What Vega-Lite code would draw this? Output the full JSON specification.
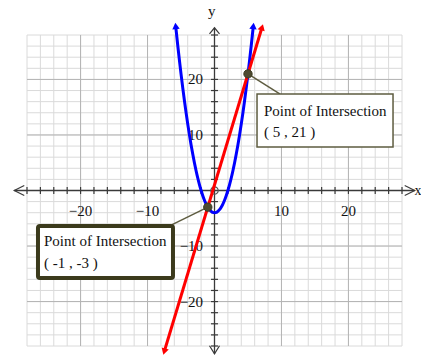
{
  "$schema": "https://vega.github.io/schema/vega-lite/v6.json",
  "width": 375,
  "height": 311,
  "autosize": {"type": "none"},
  "padding": {"left": 27, "top": 35, "right": 19, "bottom": 12},
  "background": "white",
  "config": {"view": {"stroke": null}, "font": "Liberation Serif", "text": {"font": "Liberation Serif", "fontSize": 15, "color": "#111111"}},
  "datasets": {
    "grid": [
      {"v": -28}, {"v": -26}, {"v": -24}, {"v": -22}, {"v": -20}, {"v": -18}, {"v": -16}, {"v": -14}, {"v": -12}, {"v": -10},
      {"v": -8}, {"v": -6}, {"v": -4}, {"v": -2}, {"v": 0}, {"v": 2}, {"v": 4}, {"v": 6}, {"v": 8}, {"v": 10},
      {"v": 12}, {"v": 14}, {"v": 16}, {"v": 18}, {"v": 20}, {"v": 22}, {"v": 24}, {"v": 26}, {"v": 28}
    ],
    "major": [{"v": -20}, {"v": -10}, {"v": 10}, {"v": 20}],
    "labels": [
      {"v": -20, "label": "−20"}, {"v": -10, "label": "−10"}, {"v": 10, "label": "10"}, {"v": 20, "label": "20"}
    ],
    "axes": [{"axis": "x"}, {"axis": "y"}],
    "parabola": [
      {"x": -5.8, "y": 29.64}, {"x": -5.5, "y": 26.25}, {"x": -5.25, "y": 23.56}, {"x": -5, "y": 21},
      {"x": -4.75, "y": 18.56}, {"x": -4.5, "y": 16.25}, {"x": -4.25, "y": 14.06}, {"x": -4, "y": 12},
      {"x": -3.75, "y": 10.06}, {"x": -3.5, "y": 8.25}, {"x": -3.25, "y": 6.56}, {"x": -3, "y": 5},
      {"x": -2.75, "y": 3.56}, {"x": -2.5, "y": 2.25}, {"x": -2.25, "y": 1.06}, {"x": -2, "y": 0},
      {"x": -1.75, "y": -0.94}, {"x": -1.5, "y": -1.75}, {"x": -1.25, "y": -2.44}, {"x": -1, "y": -3},
      {"x": -0.75, "y": -3.44}, {"x": -0.5, "y": -3.75}, {"x": -0.25, "y": -3.94}, {"x": 0, "y": -4},
      {"x": 0.25, "y": -3.94}, {"x": 0.5, "y": -3.75}, {"x": 0.75, "y": -3.44}, {"x": 1, "y": -3},
      {"x": 1.25, "y": -2.44}, {"x": 1.5, "y": -1.75}, {"x": 1.75, "y": -0.94}, {"x": 2, "y": 0},
      {"x": 2.25, "y": 1.06}, {"x": 2.5, "y": 2.25}, {"x": 2.75, "y": 3.56}, {"x": 3, "y": 5},
      {"x": 3.25, "y": 6.56}, {"x": 3.5, "y": 8.25}, {"x": 3.75, "y": 10.06}, {"x": 4, "y": 12},
      {"x": 4.25, "y": 14.06}, {"x": 4.5, "y": 16.25}, {"x": 4.75, "y": 18.56}, {"x": 5, "y": 21},
      {"x": 5.25, "y": 23.56}, {"x": 5.5, "y": 26.25}, {"x": 5.8, "y": 29.64}
    ],
    "line": [{"x": -7.5, "y": -29}, {"x": 7.1, "y": 29.4}],
    "intersections": [
      {"x": -1, "y": -3, "label": "( -1 , -3 )"},
      {"x": 5, "y": 21, "label": "( 5 , 21 )"}
    ]
  },
  "layer": [
    {
      "data": {"name": "grid"},
      "mark": {"type": "rule", "color": "#dadada", "strokeWidth": 1},
      "encoding": {
        "x": {"field": "v", "type": "quantitative", "scale": {"domain": [-28, 28], "nice": false, "zero": false}, "axis": null},
        "y": {"datum": -28, "type": "quantitative", "scale": {"domain": [-28, 28], "nice": false, "zero": false}, "axis": null},
        "y2": {"datum": 28}
      }
    },
    {
      "data": {"name": "grid"},
      "mark": {"type": "rule", "color": "#dadada", "strokeWidth": 1},
      "encoding": {
        "y": {"field": "v", "type": "quantitative"},
        "x": {"datum": -28, "type": "quantitative"},
        "x2": {"datum": 28}
      }
    },
    {
      "data": {"name": "major"},
      "mark": {"type": "rule", "color": "#b4b4b4", "strokeWidth": 1},
      "encoding": {
        "x": {"field": "v", "type": "quantitative"},
        "y": {"datum": -28, "type": "quantitative"},
        "y2": {"datum": 28}
      }
    },
    {
      "data": {"name": "major"},
      "mark": {"type": "rule", "color": "#b4b4b4", "strokeWidth": 1},
      "encoding": {
        "y": {"field": "v", "type": "quantitative"},
        "x": {"datum": -28, "type": "quantitative"},
        "x2": {"datum": 28}
      }
    },
    {
      "data": {"name": "axes"},
      "transform": [{"filter": "datum.axis == 'x'"}],
      "mark": {"type": "rule", "color": "#3a3a3a", "strokeWidth": 1.3},
      "encoding": {
        "x": {"datum": -29.9, "type": "quantitative"},
        "x2": {"datum": 29.9},
        "y": {"datum": 0, "type": "quantitative"}
      }
    },
    {
      "data": {"name": "axes"},
      "transform": [{"filter": "datum.axis == 'y'"}],
      "mark": {"type": "rule", "color": "#3a3a3a", "strokeWidth": 1.3},
      "encoding": {
        "y": {"datum": -29.4, "type": "quantitative"},
        "y2": {"datum": 29.3},
        "x": {"datum": 0, "type": "quantitative"}
      }
    },
    {
      "data": {"name": "axes"},
      "transform": [{"filter": "datum.axis == 'x'"}],
      "mark": {"type": "point", "shape": "M -1 -0.5 L 0 0 L -1 0.5", "filled": false, "color": "#3a3a3a", "strokeWidth": 1.2, "size": 400, "opacity": 1},
      "encoding": {"x": {"datum": 29.9, "type": "quantitative"}, "y": {"datum": 0, "type": "quantitative"}}
    },
    {
      "data": {"name": "axes"},
      "transform": [{"filter": "datum.axis == 'x'"}],
      "mark": {"type": "point", "shape": "M 1 -0.5 L 0 0 L 1 0.5", "filled": false, "color": "#3a3a3a", "strokeWidth": 1.2, "size": 400, "opacity": 1},
      "encoding": {"x": {"datum": -29.9, "type": "quantitative"}, "y": {"datum": 0, "type": "quantitative"}}
    },
    {
      "data": {"name": "axes"},
      "transform": [{"filter": "datum.axis == 'y'"}],
      "mark": {"type": "point", "shape": "M -0.5 0.6 L 0 0 L 0.5 0.6", "filled": false, "color": "#3a3a3a", "strokeWidth": 1.2, "size": 400, "opacity": 1},
      "encoding": {"x": {"datum": 0, "type": "quantitative"}, "y": {"datum": 29.3, "type": "quantitative"}}
    },
    {
      "data": {"name": "axes"},
      "transform": [{"filter": "datum.axis == 'y'"}],
      "mark": {"type": "point", "shape": "M -0.5 -0.8 L 0 0 L 0.5 -0.8", "filled": false, "color": "#3a3a3a", "strokeWidth": 1.2, "size": 400, "opacity": 1},
      "encoding": {"x": {"datum": 0, "type": "quantitative"}, "y": {"datum": -29.4, "type": "quantitative"}}
    },
    {
      "data": {"name": "axes"},
      "transform": [{"filter": "datum.axis == 'x'"}],
      "mark": {"type": "text", "font": "Liberation Serif", "fontSize": 14, "align": "left", "baseline": "middle"},
      "encoding": {"x": {"datum": 29.85, "type": "quantitative"}, "y": {"datum": 0, "type": "quantitative"}, "text": {"field": "axis"}}
    },
    {
      "data": {"name": "axes"},
      "transform": [{"filter": "datum.axis == 'y'"}],
      "mark": {"type": "text", "font": "Liberation Serif", "fontSize": 15, "align": "center", "baseline": "middle"},
      "encoding": {"x": {"datum": -0.4, "type": "quantitative"}, "y": {"datum": 32.3, "type": "quantitative"}, "text": {"field": "axis"}}
    },
    {
      "data": {"name": "grid"},
      "transform": [{"filter": "datum.v != 0"}],
      "mark": {"type": "tick", "orient": "vertical", "color": "#3a3a3a", "size": 7, "thickness": 1.2, "opacity": 1},
      "encoding": {"x": {"field": "v", "type": "quantitative"}, "y": {"datum": 0, "type": "quantitative"}}
    },
    {
      "data": {"name": "grid"},
      "transform": [{"filter": "datum.v != 0"}],
      "mark": {"type": "tick", "orient": "horizontal", "color": "#3a3a3a", "size": 7, "thickness": 1.2, "opacity": 1},
      "encoding": {"y": {"field": "v", "type": "quantitative"}, "x": {"datum": 0, "type": "quantitative"}}
    },
    {
      "data": {"name": "labels"},
      "mark": {"type": "text", "font": "Liberation Serif", "fontSize": 15, "align": "center", "baseline": "middle"},
      "encoding": {"x": {"field": "v", "type": "quantitative"}, "y": {"datum": -3.7, "type": "quantitative"}, "text": {"field": "label"}}
    },
    {
      "data": {"name": "labels"},
      "mark": {"type": "text", "font": "Liberation Serif", "fontSize": 15, "align": "right", "baseline": "middle"},
      "encoding": {"y": {"field": "v", "type": "quantitative"}, "x": {"datum": -1.7, "type": "quantitative"}, "text": {"field": "label"}}
    },
    {
      "data": {"name": "grid"},
      "transform": [{"filter": "datum.v == 0"}],
      "mark": {"type": "point", "shape": "circle", "filled": false, "color": "#555555", "strokeWidth": 1.2, "size": 55, "opacity": 1},
      "encoding": {"x": {"field": "v", "type": "quantitative"}, "y": {"field": "v", "type": "quantitative"}}
    },
    {
      "data": {"name": "parabola"},
      "mark": {"type": "line", "color": "#0000ff", "strokeWidth": 3, "interpolate": "monotone"},
      "encoding": {"x": {"field": "x", "type": "quantitative"}, "y": {"field": "y", "type": "quantitative"}}
    },
    {
      "data": {"name": "parabola"},
      "transform": [{"filter": "datum.x == 5.8"}],
      "mark": {"type": "point", "shape": "triangle-up", "filled": true, "color": "#0000ff", "size": 55, "angle": 6, "opacity": 1},
      "encoding": {"x": {"field": "x", "type": "quantitative"}, "y": {"field": "y", "type": "quantitative"}}
    },
    {
      "data": {"name": "parabola"},
      "transform": [{"filter": "datum.x == -5.8"}],
      "mark": {"type": "point", "shape": "triangle-up", "filled": true, "color": "#0000ff", "size": 55, "angle": 354, "opacity": 1},
      "encoding": {"x": {"field": "x", "type": "quantitative"}, "y": {"field": "y", "type": "quantitative"}}
    },
    {
      "data": {"name": "line"},
      "mark": {"type": "line", "color": "#ff0000", "strokeWidth": 3},
      "encoding": {"x": {"field": "x", "type": "quantitative"}, "y": {"field": "y", "type": "quantitative"}}
    },
    {
      "data": {"name": "line"},
      "transform": [{"filter": "datum.x > 0"}],
      "mark": {"type": "point", "shape": "triangle-up", "filled": true, "color": "#ff0000", "size": 55, "angle": 16.8, "opacity": 1},
      "encoding": {"x": {"field": "x", "type": "quantitative"}, "y": {"field": "y", "type": "quantitative"}}
    },
    {
      "data": {"name": "line"},
      "transform": [{"filter": "datum.x < 0"}],
      "mark": {"type": "point", "shape": "triangle-up", "filled": true, "color": "#ff0000", "size": 55, "angle": 196.8, "opacity": 1},
      "encoding": {"x": {"field": "x", "type": "quantitative"}, "y": {"field": "y", "type": "quantitative"}}
    },
    {
      "data": {"name": "intersections"},
      "transform": [{"filter": "datum.x == 5"}],
      "mark": {"type": "rule", "color": "#5e5c40", "strokeWidth": 1.5},
      "encoding": {
        "x": {"field": "x", "type": "quantitative"}, "y": {"field": "y", "type": "quantitative"},
        "x2": {"datum": 9.8}, "y2": {"datum": 17.37}
      }
    },
    {
      "data": {"name": "intersections"},
      "transform": [{"filter": "datum.x == -1"}],
      "mark": {"type": "rule", "color": "#5e5c40", "strokeWidth": 1.5},
      "encoding": {
        "x": {"field": "x", "type": "quantitative"}, "y": {"field": "y", "type": "quantitative"},
        "x2": {"datum": -6.4}, "y2": {"datum": -6.2}
      }
    },
    {
      "data": {"name": "intersections"},
      "transform": [{"filter": "datum.x == 5"}],
      "mark": {"type": "rect", "fill": "white", "stroke": "#5e5c40", "strokeWidth": 1.5},
      "encoding": {
        "x": {"datum": 6.35, "type": "quantitative"}, "x2": {"datum": 26.66},
        "y": {"datum": 17.37, "type": "quantitative"}, "y2": {"datum": 7.83}
      }
    },
    {
      "data": {"name": "intersections"},
      "transform": [{"filter": "datum.x == -1"}],
      "mark": {"type": "rect", "fill": "white", "stroke": "#3b3a1c", "strokeWidth": 4, "cornerRadius": 2},
      "encoding": {
        "x": {"datum": -26.36, "type": "quantitative"}, "x2": {"datum": -6.2},
        "y": {"datum": -6.39, "type": "quantitative"}, "y2": {"datum": -15.75}
      }
    },
    {
      "data": {"name": "intersections"},
      "transform": [{"filter": "datum.x == 5"}],
      "mark": {"type": "text", "font": "Liberation Serif", "fontSize": 15, "align": "left", "baseline": "middle", "text": "Point of Intersection"},
      "encoding": {"x": {"datum": 7.39, "type": "quantitative"}, "y": {"datum": 14.31, "type": "quantitative"}}
    },
    {
      "data": {"name": "intersections"},
      "transform": [{"filter": "datum.x == 5"}],
      "mark": {"type": "text", "font": "Liberation Serif", "fontSize": 15, "align": "left", "baseline": "middle"},
      "encoding": {"x": {"datum": 7.39, "type": "quantitative"}, "y": {"datum": 10.53, "type": "quantitative"}, "text": {"field": "label"}}
    },
    {
      "data": {"name": "intersections"},
      "transform": [{"filter": "datum.x == -1"}],
      "mark": {"type": "text", "font": "Liberation Serif", "fontSize": 15, "align": "left", "baseline": "middle", "text": "Point of Intersection"},
      "encoding": {"x": {"datum": -25.46, "type": "quantitative"}, "y": {"datum": -9.09, "type": "quantitative"}}
    },
    {
      "data": {"name": "intersections"},
      "transform": [{"filter": "datum.x == -1"}],
      "mark": {"type": "text", "font": "Liberation Serif", "fontSize": 15, "align": "left", "baseline": "middle"},
      "encoding": {"x": {"datum": -25.46, "type": "quantitative"}, "y": {"datum": -13.05, "type": "quantitative"}, "text": {"field": "label"}}
    },
    {
      "data": {"name": "intersections"},
      "mark": {"type": "point", "shape": "circle", "filled": true, "color": "#4d4a30", "size": 70, "opacity": 1, "stroke": "#3b3a22", "strokeWidth": 1},
      "encoding": {"x": {"field": "x", "type": "quantitative"}, "y": {"field": "y", "type": "quantitative"}}
    }
  ]
}
